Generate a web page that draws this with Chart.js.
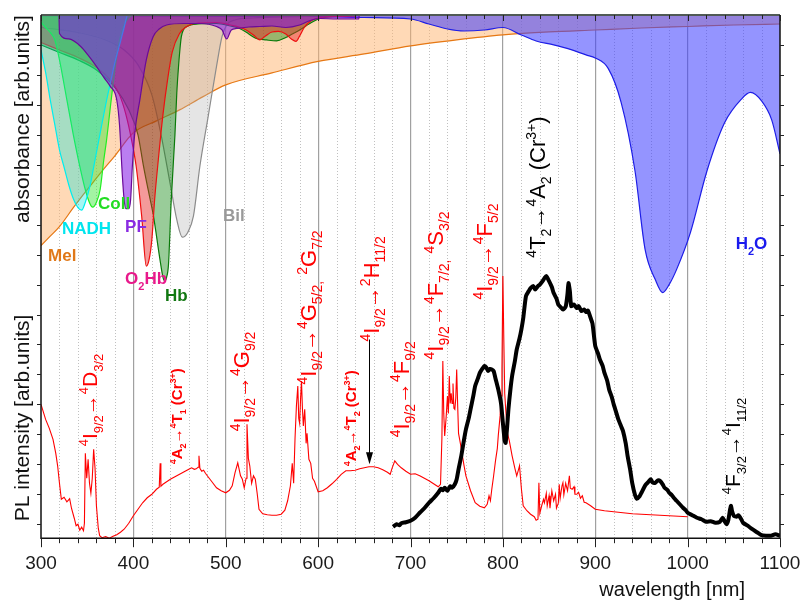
<!DOCTYPE html>
<html>
<head>
<meta charset="utf-8">
<script src="https://cdn.jsdelivr.net/npm/chart.js@4.4.1/dist/chart.umd.min.js"></script>
<style>
  body { margin: 0; background: #fff; }
  canvas { display: block; }
</style>
</head>
<body>
<canvas id="chart" width="806" height="603"></canvas>
<script>
// x axis
const xMin = 300, xMax = 1100;
const xMajor = [300, 400, 500, 600, 700, 800, 900, 1000, 1100];

// PL of Nd,Cr sample (red, thin)
const plNm = [300,305,309,313,316,318,320,322,325,328,331,333,336,338,340,342,344,346,347,348,349.5,351,352.5,354,355.5,357,358.5,360,362,363.5,366,370,374,378,382,386,390,395,400,405,410,415,420,425,428,429,429.8,432,436,440,445,450,455,460,463,466,468,470,471,472,474,476,478,480,485,490,495,500,504,507,510,513,516,518,520,522,523,524.5,526,528,530,532,534,536,540,545,550,555,560,564,567,570,572,573.5,575,576.5,578,579,580,581,582,583,584,585.5,587,588,590,592,594,596,600,605,610,615,620,625,630,635,640,645,650,655,660,665,670,675,678,680,683,686,690,695,700,705,710,715,720,725,730,732.5,734,735,736,737,738.5,740,741,742,743,744,745,746,747,748,749,750,751,752,754,755,758,760,765,770,775,780,783,785,786.5,788,790,792,794,795,797,798,799,800,801,802,803,805,807,810,813,815,817,818,820,822,826,830,834,836,838,839,840,842,844,845,847,848,850,851,853,855,857,858,860,861,862,864,865,866,868,870,872,873,875,877,878,880,882,884,886,888,890,895,900,910,920,930,940,950,960,970,980,990,1000];
const plVal = [26.8,23.8,22.0,19.8,17.0,14.5,11.0,7.8,8.2,7.3,7.9,6.0,4.0,2.5,2.8,1.6,2.2,1.5,3,17,12,15.8,11,9,12,17.8,14,6.5,2,0.5,0.1,0.3,0,0.4,0.7,1.2,1.8,3,4.5,5.8,7.1,8.1,8.8,9.8,10.2,15,10.4,10.8,11.3,11.8,12.3,12.8,13.3,13.8,14.1,13.8,13.9,14.2,16.5,14.0,13.4,13.6,13.0,12.5,11.3,10.1,9.5,9.1,9.6,10.5,13.1,15.1,12.5,11.8,10.1,12,22.8,16,14.5,11,12.5,11.8,9,5.8,4.9,4.7,4.6,4.6,4.8,5.6,7.5,10.5,15,11,20,26.5,30.5,24,23,28,31.5,26,22.5,25.8,19,21,15.8,15,12,11.4,9.3,9.5,10.1,10.9,11.8,12.8,13.5,13.5,13.6,13.9,14.1,14.3,14.3,14.1,13.7,13.2,12.8,14,15.5,14.8,14.1,13.4,12.8,12.9,12.5,12,11.5,10.9,10.3,10.8,20,35.5,25,20.5,24,28.5,25,32.5,27,29,27,31,26,25.8,28,33.8,27,21,19,17.8,14.5,12.5,9.5,7.1,6.4,6.1,6.8,8.5,7.5,9.8,12.5,15.5,18,20.5,24.5,28.5,34,52.5,40,29,26,21,19.5,16.5,14,12.5,13.8,14.5,10,6.5,5.5,4.8,4.3,3.6,3.8,11.1,5,6.5,7.8,7.1,9,6.5,8.5,6,9.5,7.5,8.8,6,7,10.8,8,10.5,11.1,8.7,11,9.5,12.5,10,9.8,10.3,8.8,8.8,9.2,8,8.5,7.2,7.1,6.5,5.8,5.5,5.3,5.1,4.9,4.8,4.7,4.6,4.5,4.4,4.3];

// Cr3+ emission (black, thick)
const crNm = [681,685,688,690,695,700,705,710,715,720,725,730,733,735,737,740,743,745,748,750,752,755,758,760,763,765,768,770,773,775,778,780,782,784,786,788,790,792,795,798,800,802,803,804.5,806,808,810,813,815,818,820,822,825,828,830,833,835,838,840,843,845,847,850,853,855,858,860,863,865,868,870,871,872.5,874,877,880,882,885,888,890,892,895,897,900,903,905,908,910,913,915,918,920,923,925,928,930,933,935,938,940,943,945,948,950,953,955,958,960,962,965,968,970,973,975,978,980,983,985,988,990,993,995,998,1000,1005,1010,1015,1020,1025,1030,1035,1038,1040,1042,1044,1046,1047,1048,1050,1053,1055,1058,1060,1065,1070,1075,1080,1085,1090,1095,1100];
const crVal = [2.3,2.8,2.6,3,3.2,3.5,4.1,5.1,6,7.1,8,9.1,9.9,9.6,10.1,9.5,10.4,10.1,10.8,11.8,13.8,16.5,19.8,21.8,24,25.8,28.5,30.5,32,33.1,34,34.5,34.2,33.5,33.9,33.8,33.5,32,29.8,27,23.1,19.5,19.1,22,25.8,29.5,32.5,35.5,37.8,40,41.8,44,48.5,49.5,50.1,50.5,49.8,50.5,50.8,51.5,52.1,52.5,51.5,50.3,49.1,48,46.8,46.2,45.8,46.4,49,51.1,49.5,46.5,46.8,46.1,46.5,45.5,45.8,45.3,45.6,44.1,43,38.5,37,35.8,34.5,33.1,31.5,29.8,28.2,26.8,25,23.8,22.4,21.5,19,16.5,13.5,11.1,8.7,7.9,8.4,9.1,10.2,10.8,11.4,11.8,11.2,11.1,11.6,11.5,10.8,10.1,9.7,9.1,8.6,8.1,7.5,7.1,6.5,6.1,5.6,5.1,4.6,4.1,3.8,3.3,3.4,3.1,3.3,4.1,3.4,2.8,3.6,5.8,6.5,5.5,4.5,4.3,4.6,3.8,3.1,2.5,1.8,1.2,0.6,0.5,0.5,0.8,0.5];

// absorbance of tissue components, hanging down from the top edge
const melNm  = [300,310,320,335,350,365,380,400,425,450,475,500,550,600,650,700,750,800,850,900,950,1000,1050,1100];
const melAbs = [46.2,44.3,42.4,38.6,35,31.5,28.2,23.6,21.2,19,16.4,14,11.6,9.3,7.8,6.2,5,4,3.4,3,2.6,2.3,2,1.8];

const nadhNm  = [300,305,310,315,320,325,330,335,340,344,348,353,358,364,370,375,380,385.5,390,394,400];
const nadhAbs = [7,11.5,17,22,27,30.5,34,36.8,38.6,39.1,37.5,34.3,29.5,23.7,18,13.7,9.5,5.7,2.5,0,0];

const collNm  = [300,305,310,315,320,328,335,342,348,353,356,360,364,368,371,376,380,385,390,395,400];
const collAbs = [1.5,2.5,3.5,5,9,17,24,30.3,35,37.8,38.5,37.5,35,29,25,17,11,5,2,0.5,0];

const pfNm  = [319.5,320,330,343,352,360,368,375,382,385,388,390,392,395,397,399,401.5,407,414,421.5,428,436,455,472,490,496,501,506,512,525,537,550,565,580,590,602,620,644,644.5];
const pfAbs = [0,3.7,4.8,6.3,8.3,10.3,12.5,14.3,17,22,32,37,38.8,38.8,37,30,23.7,17,9,4.3,2.8,2,1.7,1.7,2.3,3,4.8,3,2.7,2.4,2.3,2.2,2.5,2,1.2,0.7,0.8,0.8,0];

const o2hbNm  = [300,320,340,360,375,385,392,398,403,409,414,417,420,423,427,432,437,442,450,458,470,490,505,520,530,537,543,550,557,565,571,576,580,585,592,600,620,640];
const o2hbAbs = [5.5,7,8.5,10.5,13,16,20,25,30.3,40.3,50.3,49,45,37,29,20,13,7.5,3.7,2.3,1.6,1.5,2,2.8,4,5,4.2,3.4,3.3,3.8,4.8,5.3,4.2,2.5,1.2,0.6,0.3,0.2];

const hbNm  = [300,320,340,360,380,395,405,410.7,416,421.5,428.8,432,434,436,438,441,445,447,449,452,458,470,490,505,515,525,533,544,555,565,572,580,591,602,620,640];
const hbAbs = [6,7.5,9,11,14.5,19,24,30,35,40,49,52.5,53.3,52.5,50,37,24,15.6,10,4.3,2.3,1.8,1.7,2.2,2.7,3.8,4.7,5,5.2,4.5,3.8,3,1.7,0.7,0.3,0.2];

const bilNm  = [300,340,370,390,405,420,430,440,447,453,459,465,472,481,490,496,501,510,530,560,600];
const bilAbs = [2.5,3.5,5,7,10,16,24,34,41,44.5,43.5,40.3,30.3,20.3,10.3,4.3,2,1,0.6,0.4,0.2];

const h2oNm  = [300,400,500,600,650,700,720,740,758,780,800,820,836,855,873,890,900,914,928,943,954,965,973,980,988,1003,1021,1040,1058,1068,1080,1091,1100];
const h2oAbs = [0.2,0.2,0.3,0.3,0.5,0.8,1.8,2.8,3.2,3,2.5,4,5.2,6,6.9,8,8.6,10.7,17.5,31.2,47,53,55.6,54,51,43.6,31.2,21.6,16.9,15.5,17.2,21,27.8];

const FONT = '"Liberation Sans", Arial, sans-serif';
Chart.defaults.font.family = FONT;

function pts(xs, ys) {
  return xs.map((x, i) => ({ x: x, y: ys[i] }));
}

function absSet(label, xs, ys, line, fill, order) {
  return {
    label: label,
    data: pts(xs, ys),
    yAxisID: 'yA',
    borderColor: line,
    backgroundColor: fill,
    borderWidth: 1.2,
    fill: 'origin',
    pointRadius: 0,
    cubicInterpolationMode: 'monotone',
    order: order
  };
}

// text with super/subscripts, turned 90deg (reads bottom to top)
function richText(ctx, x, y, parts, size, color, bold) {
  ctx.save();
  ctx.translate(x, y);
  ctx.rotate(-Math.PI / 2);
  ctx.fillStyle = color;
  ctx.textBaseline = 'alphabetic';
  ctx.textAlign = 'left';
  let cx = 0;
  for (const p of parts) {
    const kind = p[1];
    const s = kind === 'n' ? size : Math.round(size * 0.62);
    ctx.font = (bold ? 'bold ' : '') + s + 'px ' + FONT;
    const dy = kind === 'sup' ? -size * 0.42 : (kind === 'sub' ? size * 0.28 : 0);
    ctx.fillText(p[0], cx, dy);
    cx += ctx.measureText(p[0]).width;
  }
  ctx.restore();
}

const I92 = [['4','sup'],['I','n'],['9/2','sub'],['\u2192','n']];
const notes = [
  { nm: 360.6, pl: 18.4, size: 21, color: '#ff0000', bold: false, parts: [...I92, ['4','sup'],['D','n'],['3/2','sub']] },
  { nm: 452.6, pl: 14.8, size: 15, color: '#ff0000', bold: true,  parts: [['4','sup'],['A','n'],['2','sub'],['\u2192','n'],['4','sup'],['T','n'],['1','sub'],[' (Cr','n'],['3+','sup'],[')','n']] },
  { nm: 525,   pl: 21.4, size: 22, color: '#ff0000', bold: false, parts: [...I92, ['4','sup'],['G','n'],['9/2','sub']] },
  { nm: 597.6, pl: 30.8, size: 22, color: '#ff0000', bold: false, parts: [...I92, ['4','sup'],['G','n'],['5/2','sub'],[',','sub'],[' ','n'],['2','sup'],['G','n'],['7/2','sub']] },
  { nm: 641,   pl: 14.4, size: 15, color: '#ff0000', bold: true,  parts: [['4','sup'],['A','n'],['2','sub'],['\u2192','n'],['4','sup'],['T','n'],['2','sub'],[' (Cr','n'],['3+','sup'],[')','n']] },
  { nm: 665.8, pl: 39.4, size: 22, color: '#ff0000', bold: false, parts: [...I92, ['2','sup'],['H','n'],['11/2','sub']] },
  { nm: 698.3, pl: 20.2, size: 22, color: '#ff0000', bold: false, parts: [...I92, ['4','sup'],['F','n'],['9/2','sub']] },
  { nm: 735,   pl: 35.8, size: 22, color: '#ff0000', bold: false, parts: [...I92, ['4','sup'],['F','n'],['7/2','sub'],[',','sub'],[' ','n'],['4','sup'],['S','n'],['3/2','sub']] },
  { nm: 788,   pl: 47.8, size: 22, color: '#ff0000', bold: false, parts: [...I92, ['4','sup'],['F','n'],['5/2','sub']] },
  { nm: 845.5, pl: 56.2, size: 22, color: '#000000', bold: false, parts: [['4','sup'],['T','n'],['2','sub'],['\u2192','n'],['4','sup'],['A','n'],['2','sub'],[' (Cr','n'],['3+','sup'],[')','n']] },
  { nm: 1056.5, pl: 8.8, size: 21, color: '#000000', bold: false, parts: [['4','sup'],['F','n'],['3/2','sub'],['\u2192','n'],['4','sup'],['I','n'],['11/2','sub']] }
];

const absLabels = [
  { nm: 361.7, a: 38,   color: '#22dd22', parts: [['Coll','n']] },
  { nm: 322.7, a: 43,   color: '#00e5ee', parts: [['NADH','n']] },
  { nm: 391,   a: 42.6, color: '#8a2be2', parts: [['PF','n']] },
  { nm: 307.6, a: 48.4, color: '#e07818', parts: [['Mel','n']] },
  { nm: 391,   a: 53,   color: '#e8198b', parts: [['O','n'],['2','sub'],['Hb','n']] },
  { nm: 434.2, a: 56.4, color: '#117711', parts: [['Hb','n']] },
  { nm: 497,   a: 40.4, color: '#999999', parts: [['Bil','n']] },
  { nm: 1052,  a: 46,   color: '#1a1aee', parts: [['H','n'],['2','sub'],['O','n']] }
];

const decor = {
  id: 'decor',
  beforeDatasetsDraw(chart) {
    const ctx = chart.ctx, a = chart.chartArea, x = chart.scales.x;
    ctx.save();
    ctx.strokeStyle = 'rgba(185,185,185,0.9)';
    ctx.lineWidth = 1;
    ctx.setLineDash([1, 2]);
    for (let nm = xMin + 20; nm < xMax; nm += 20) {
      if (nm % 100 === 0) continue;
      const px = Math.round(x.getPixelForValue(nm)) + 0.5;
      ctx.beginPath();
      ctx.moveTo(px, a.top);
      ctx.lineTo(px, a.bottom);
      ctx.stroke();
    }
    ctx.restore();
  },
  afterDatasetsDraw(chart) {
    const ctx = chart.ctx, a = chart.chartArea, x = chart.scales.x;
    const yP = chart.scales.yP, yA = chart.scales.yA;
    ctx.save();
    // frame
    ctx.setLineDash([]);
    ctx.strokeStyle = '#505a55';
    ctx.lineWidth = 2;
    ctx.beginPath(); ctx.moveTo(a.left, a.top); ctx.lineTo(a.right, a.top); ctx.stroke();
    ctx.strokeStyle = '#111';
    ctx.lineWidth = 1.5;
    ctx.beginPath();
    ctx.moveTo(a.left, a.top); ctx.lineTo(a.left, a.bottom); ctx.lineTo(a.right, a.bottom); ctx.lineTo(a.right, a.top);
    ctx.stroke();
    // ticks
    ctx.lineWidth = 1;
    ctx.strokeStyle = '#222';
    ctx.beginPath();
    for (let nm = xMin; nm <= xMax; nm += 20) {
      const px = Math.round(x.getPixelForValue(nm)) + 0.5;
      const major = nm % 100 === 0;
      ctx.moveTo(px, a.bottom); ctx.lineTo(px, a.bottom + (major ? 9 : 5));
      ctx.moveTo(px, a.top); ctx.lineTo(px, a.top + (major ? 6 : 4));
    }
    for (let v = 6; v < 104; v += 6) {
      const py = Math.round(yA.getPixelForValue(v)) + 0.5;
      ctx.moveTo(a.left - 4, py); ctx.lineTo(a.left, py);
      ctx.moveTo(a.right, py); ctx.lineTo(a.right + 4, py);
    }
    ctx.stroke();

    // arrow to the broad Cr band
    const ax = Math.round(x.getPixelForValue(655)) + 0.5;
    const ay0 = yP.getPixelForValue(39.8), ay1 = yP.getPixelForValue(14.8);
    ctx.strokeStyle = '#000';
    ctx.beginPath(); ctx.moveTo(ax, ay0); ctx.lineTo(ax, ay1 - 10); ctx.stroke();
    ctx.fillStyle = '#000';
    ctx.beginPath(); ctx.moveTo(ax - 3.5, ay1 - 12); ctx.lineTo(ax + 3.5, ay1 - 12); ctx.lineTo(ax, ay1); ctx.closePath(); ctx.fill();

    // transitions
    for (const n of notes) {
      richText(ctx, x.getPixelForValue(n.nm), yP.getPixelForValue(n.pl), n.parts, n.size, n.color, n.bold);
    }
    // component names
    ctx.textBaseline = 'middle';
    ctx.textAlign = 'left';
    for (const l of absLabels) {
      let cx = x.getPixelForValue(l.nm);
      const cy = yA.getPixelForValue(l.a);
      ctx.fillStyle = l.color;
      for (const p of l.parts) {
        const sub = p[1] === 'sub';
        ctx.font = 'bold ' + (sub ? 11 : 17) + 'px ' + FONT;
        ctx.fillText(p[0], cx, cy + (sub ? 7 : 0));
        cx += ctx.measureText(p[0]).width;
      }
    }
    ctx.restore();
  },
  afterDraw(chart) {
    const ctx = chart.ctx, a = chart.chartArea;
    ctx.save();
    ctx.fillStyle = '#111';
    ctx.font = '20px ' + FONT;
    ctx.textAlign = 'right';
    ctx.textBaseline = 'middle';
    ctx.fillText('wavelength [nm]', a.right - 35, 590);
    ctx.textAlign = 'center';
    ctx.font = '21px ' + FONT;
    const ty = [[119, 'absorbance [arb.units]'], [418, 'PL intensity [arb.units]']];
    for (const t of ty) {
      ctx.save();
      ctx.translate(23, t[0]);
      ctx.rotate(-Math.PI / 2);
      ctx.fillText(t[1], 0, 0);
      ctx.restore();
    }
    ctx.restore();
  }
};

new Chart(document.getElementById('chart'), {
  type: 'line',
  data: {
    datasets: [
      { label: 'Cr3+', data: pts(crNm, crVal), yAxisID: 'yP', borderColor: '#000', borderWidth: 4, pointRadius: 0, fill: false, tension: 0.2, borderJoinStyle: 'round', order: -2 },
      { label: 'PL', data: pts(plNm, plVal), yAxisID: 'yP', borderColor: '#ff0000', borderWidth: 1.1, pointRadius: 0, fill: false, tension: 0, order: -1 },
      absSet('PF', pfNm, pfAbs, '#6a0a9a', 'rgba(130,20,230,0.55)', 1),
      absSet('NADH', nadhNm, nadhAbs, '#00eeee', 'rgba(0,230,220,0.35)', 2),
      absSet('Coll', collNm, collAbs, '#22ee22', 'rgba(50,230,50,0.45)', 3),
      absSet('O2Hb', o2hbNm, o2hbAbs, '#ee1010', 'rgba(230,30,30,0.45)', 4),
      absSet('Hb', hbNm, hbAbs, '#0a7a0a', 'rgba(0,128,0,0.4)', 5),
      absSet('Bil', bilNm, bilAbs, '#8c8c8c', 'rgba(180,180,180,0.35)', 6),
      absSet('H2O', h2oNm, h2oAbs, '#1e1ee6', 'rgba(60,60,255,0.55)', 7),
      absSet('Mel', melNm, melAbs, '#e67814', 'rgba(255,180,110,0.5)', 8)
    ]
  },
  options: {
    responsive: false,
    animation: false,
    layout: { padding: { left: 41, right: 26, top: 15, bottom: 14 } },
    plugins: { legend: { display: false }, tooltip: { enabled: false } },
    scales: {
      x: {
        type: 'linear',
        min: xMin,
        max: xMax,
        position: 'bottom',
        afterBuildTicks: (s) => { s.ticks = xMajor.map(v => ({ value: v })); },
        afterFit: (s) => { s.paddingLeft = 0; s.paddingRight = 0; },
        ticks: { color: '#1a1a1a', font: { size: 19 }, padding: 14, autoSkip: false, maxRotation: 0, callback: (v) => String(v) },
        grid: {
          drawTicks: false,
          color: (c) => (c.tick && (c.tick.value === xMin || c.tick.value === xMax)) ? 'rgba(0,0,0,0)' : 'rgb(160,160,160)',
          lineWidth: 1.2
        },
        border: { display: false }
      },
      yP: { type: 'linear', display: false, min: 0, max: 104.8 },
      yA: { type: 'linear', display: false, min: 0, max: 104.8, reverse: true }
    }
  },
  plugins: [decor]
});
</script>
</body>
</html>
